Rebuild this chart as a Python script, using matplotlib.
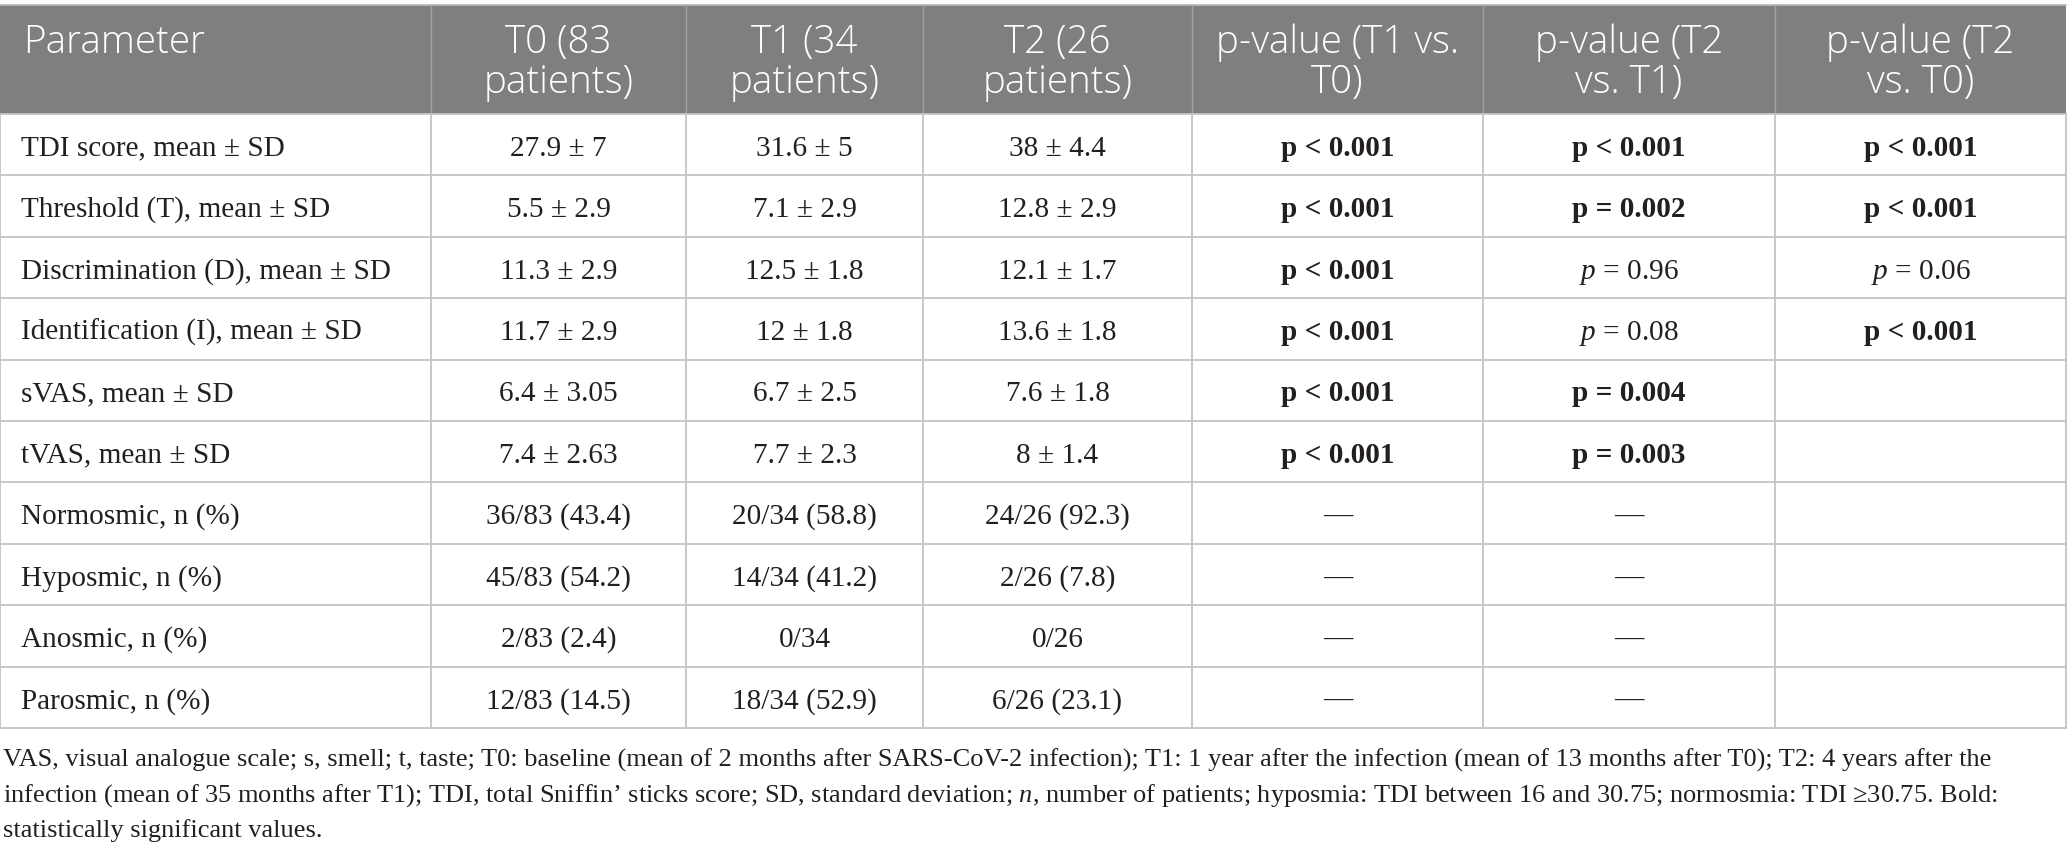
import matplotlib.pyplot as plt
import matplotlib

matplotlib.rcParams['mathtext.fontset'] = 'custom'
matplotlib.rcParams['mathtext.rm'] = 'Liberation Serif'
matplotlib.rcParams['mathtext.it'] = 'Liberation Serif:italic'
matplotlib.rcParams['mathtext.bf'] = 'Liberation Serif:bold'

# table content
headers = ["Parameter", "T0 (83\npatients)", "T1 (34\npatients)", "T2 (26\npatients)",
           "p-value (T1 vs.\nT0)", "p-value (T2\nvs. T1)", "p-value (T2\nvs. T0)"]

parameters = ["TDI score, mean ± SD", "Threshold (T), mean ± SD", "Discrimination (D), mean ± SD",
              "Identification (I), mean ± SD", "sVAS, mean ± SD", "tVAS, mean ± SD",
              "Normosmic, n (%)", "Hyposmic, n (%)", "Anosmic, n (%)", "Parosmic, n (%)"]
t0 = ["27.9 ± 7", "5.5 ± 2.9", "11.3 ± 2.9", "11.7 ± 2.9", "6.4 ± 3.05", "7.4 ± 2.63",
      "36/83 (43.4)", "45/83 (54.2)", "2/83 (2.4)", "12/83 (14.5)"]
t1 = ["31.6 ± 5", "7.1 ± 2.9", "12.5 ± 1.8", "12 ± 1.8", "6.7 ± 2.5", "7.7 ± 2.3",
      "20/34 (58.8)", "14/34 (41.2)", "0/34", "18/34 (52.9)"]
t2 = ["38 ± 4.4", "12.8 ± 2.9", "12.1 ± 1.7", "13.6 ± 1.8", "7.6 ± 1.8", "8 ± 1.4",
      "24/26 (92.3)", "2/26 (7.8)", "0/26", "6/26 (23.1)"]
p_t1_t0 = ["p < 0.001", "p < 0.001", "p < 0.001", "p < 0.001", "p < 0.001", "p < 0.001",
           "—", "—", "—", "—"]
p_t2_t1 = ["p < 0.001", "p = 0.002", "p = 0.96", "p = 0.08", "p = 0.004", "p = 0.003",
           "—", "—", "—", "—"]
p_t2_t0 = ["p < 0.001", "p < 0.001", "p = 0.06", "p < 0.001", "", "", "", "", "", ""]
# significant (bold) cells
sig_t1_t0 = [1, 1, 1, 1, 1, 1, 0, 0, 0, 0]
sig_t2_t1 = [1, 1, 0, 0, 1, 1, 0, 0, 0, 0]
sig_t2_t0 = [1, 1, 0, 1, 0, 0, 0, 0, 0, 0]

footnote = ["VAS, visual analogue scale; s, smell; t, taste; T0: baseline (mean of 2 months after SARS-CoV-2 infection); T1: 1 year after the infection (mean of 13 months after T0); T2: 4 years after the",
            "infection (mean of 35 months after T1); TDI, total Sniffin’ sticks score; SD, standard deviation; $n$, number of patients; hyposmia: TDI between 16 and 30.75; normosmia: TDI ≥30.75. Bold:",
            "statistically significant values."]

# layout (pixels)
W, H = 2067, 855
col_edges = [0, 431, 686, 923, 1192, 1483, 1775, 2066]
head_top, head_bot = 5, 114
row_h = 61.4
n_rows = len(parameters)
row_edges = [head_bot + i * row_h for i in range(n_rows + 1)]

head_col = '#7f807e'
line_col = '#c4c4c4'
txt_col = '#231f20'
serif = 'Liberation Serif'
sans = 'Open Sans'

fig = plt.figure(figsize=(W / 100, H / 100), dpi=100)
ax = fig.add_axes([0, 0, 1, 1])
ax.set_xlim(0, W)
ax.set_ylim(H, 0)
ax.axis('off')
renderer = fig.canvas.get_renderer()


def fit_size(text, family, target_px, weight='normal'):
    # font size that gives the text the wanted pixel width
    t = ax.text(0, 0, text, fontsize=20, family=family, fontweight=weight)
    w = t.get_window_extent(renderer).width
    t.remove()
    return 20 * target_px / w


head_fs = fit_size("Parameter", sans, 182, 'light')
body_fs = fit_size(parameters[2], serif, 370)
foot_fs = fit_size(footnote[0], serif, 1990)

# header background
ax.add_patch(plt.Rectangle((0, head_top), col_edges[-1], head_bot - head_top,
                           facecolor=head_col, edgecolor='none'))
ax.plot([0, col_edges[-1]], [head_top, head_top], color='#b8b8b8', lw=1.2)
for x in col_edges[1:-1]:
    ax.plot([x, x], [head_top, head_bot], color='#a3a3a3', lw=1.0)

# grid lines for body
for y in row_edges:
    ax.plot([0, col_edges[-1]], [y, y], color=line_col, lw=1.3)
for x in col_edges:
    ax.plot([x, x], [head_bot, row_edges[-1]], color=line_col, lw=1.3)

# header texts
for j, h in enumerate(headers):
    lines = h.split('\n')
    for k, ln in enumerate(lines):
        if j == 0:
            ax.text(23, 53, ln, color='white', fontsize=head_fs, family=sans,
                    fontweight='light', ha='left', va='baseline')
        else:
            xc = (col_edges[j] + col_edges[j + 1]) / 2
            ax.text(xc, 53 + 40 * k, ln, color='white', fontsize=head_fs, family=sans,
                    fontweight='light', ha='center', va='baseline')


def cell_text(val, bold):
    if val.startswith('p ') and not bold:
        return '$p$' + val[1:]
    return val


cols = [t0, t1, t2, p_t1_t0, p_t2_t1, p_t2_t0]
sigs = [None, None, None, sig_t1_t0, sig_t2_t1, sig_t2_t0]
for i in range(n_rows):
    yb = (row_edges[i] + row_edges[i + 1]) / 2 + 11
    ax.text(21, yb, parameters[i], fontsize=body_fs, family=serif, color=txt_col,
            ha='left', va='baseline')
    for j, col in enumerate(cols):
        xc = (col_edges[j + 1] + col_edges[j + 2]) / 2
        bold = sigs[j] is not None and sigs[j][i] == 1
        ax.text(xc, yb, cell_text(col[i], bold), fontsize=body_fs, family=serif, color=txt_col,
                fontweight='bold' if bold else 'normal', ha='center', va='baseline')

# footnote
for k, ln in enumerate(footnote):
    ax.text(3, 767 + 35 * k, ln, fontsize=foot_fs, family=serif, color=txt_col,
            ha='left', va='baseline')

plt.savefig('out.png', dpi=100)
